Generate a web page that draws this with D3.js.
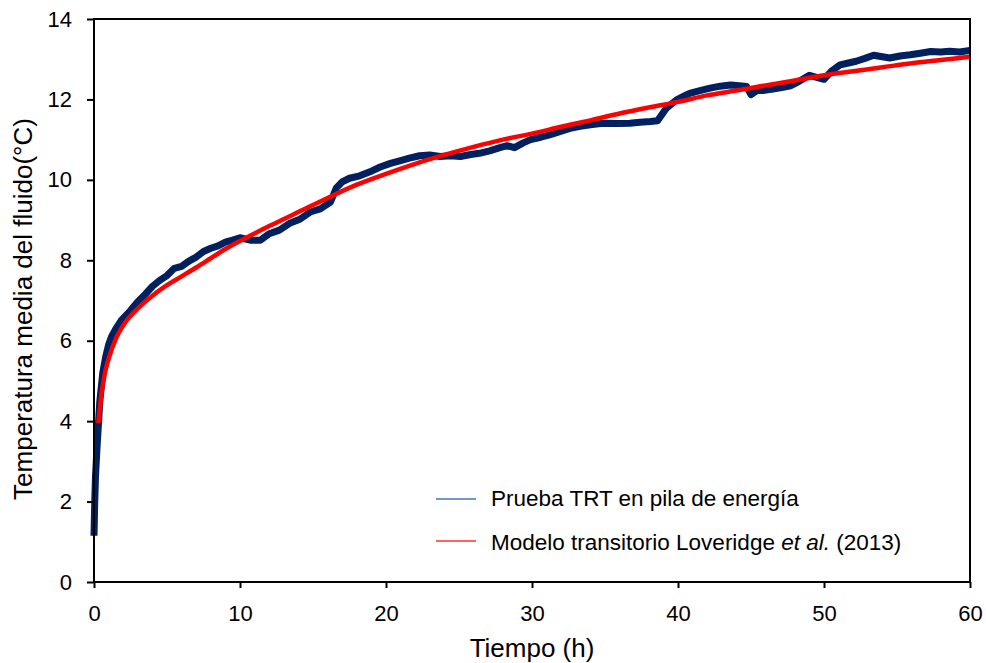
<html>
<head>
    <script src="https://cdn.jsdelivr.net/npm/d3@7"></script>
    <style>
        body { margin: 0; background: #fff; font-family: Arial, "Liberation Sans", sans-serif; }
        #Chart text { font-family: Arial, "Liberation Sans", sans-serif; fill: #000; }
    </style>
</head>
<body>
<svg id="Chart"></svg>
<script>
    let testTime = [0, 0.05, 0.1, 0.2, 0.3, 0.4, 0.6, 0.8, 1.0, 1.2, 1.5, 1.9, 2.5, 3.0, 3.5, 4.0, 4.5, 5.0, 5.5, 6.0,
        6.5, 7.0, 7.5, 8.0, 8.5, 9.0, 9.5, 10.0, 10.7, 11.4, 12.0, 12.7, 13.4, 14.1, 14.8, 15.5, 16.2, 16.6, 17.0, 17.5,
        18.2, 18.9, 19.6, 20.3, 21.0, 21.6, 22.3, 23.0, 23.7, 24.4, 25.1, 25.8, 26.4, 27.1, 27.8, 28.3, 28.8, 29.4, 29.9, 30.6,
        31.2, 31.9, 32.6, 33.3, 34.0, 34.7, 35.3, 36.0, 36.7, 37.4, 38.1, 38.6, 39.2, 39.9, 40.4, 40.8, 41.5, 42.2, 42.9, 43.6,
        44.2, 44.7, 45.0, 45.4, 45.8, 46.5, 47.2, 47.7, 48.3, 49.0, 49.5, 50.0, 50.5, 51.1, 51.6, 52.2, 52.8, 53.4, 54.0, 54.5,
        55.2, 55.9, 56.6, 57.3, 58.0, 58.6, 59.3, 60.0]
    let testTemp = [1.15, 2.0, 2.6, 3.3, 3.9, 4.5, 5.2, 5.6, 5.9, 6.1, 6.3, 6.52, 6.75, 6.97, 7.15, 7.35, 7.5, 7.62, 7.8, 7.85,
        7.98, 8.08, 8.22, 8.3, 8.36, 8.45, 8.5, 8.56, 8.5, 8.5, 8.66, 8.75, 8.92, 9.02, 9.2, 9.28, 9.45, 9.8, 9.95, 10.04,
        10.1, 10.2, 10.32, 10.41, 10.48, 10.54, 10.6, 10.62, 10.58, 10.6, 10.58, 10.63, 10.66, 10.72, 10.8, 10.85, 10.8, 10.92, 11.0, 11.06,
        11.12, 11.2, 11.28, 11.33, 11.37, 11.4, 11.41, 11.4, 11.41, 11.43, 11.45, 11.47, 11.78, 11.99, 12.08, 12.15, 12.22, 12.28, 12.33, 12.36,
        12.34, 12.32, 12.12, 12.22, 12.22, 12.26, 12.3, 12.34, 12.45, 12.6, 12.55, 12.5, 12.7, 12.86, 12.9, 12.95, 13.02, 13.1, 13.06, 13.03,
        13.08, 13.11, 13.15, 13.19, 13.18, 13.2, 13.18, 13.22]

    // transient model (red)
    let modelTime = [0.3, 0.5, 0.75, 1, 1.5, 2, 3, 4, 5, 6, 7, 8, 9, 10, 12, 14, 16, 18, 20, 22,
        24, 26, 28, 30, 32, 34, 36, 38, 40, 42, 44, 46, 48, 50, 52, 54, 56, 58, 60]
    let modelTemp = [3.95, 4.65, 5.2, 5.55, 6.05, 6.38, 6.8, 7.12, 7.38, 7.6, 7.82, 8.05, 8.28, 8.48, 8.85, 9.2, 9.55, 9.88, 10.15, 10.4,
        10.62, 10.82, 11.0, 11.15, 11.32, 11.48, 11.65, 11.8, 11.94, 12.1, 12.22, 12.35, 12.47, 12.6, 12.7, 12.8, 12.9, 12.98, 13.06]

    let xTicks = [0, 10, 20, 30, 40, 50, 60]
    let yTicks = [0, 2, 4, 6, 8, 10, 12, 14]

    function drawChart() {
        let width = 986, height = 663
        let margin = { top: 19, bottom: 81, left: 94, right: 16 }
        let svg = d3.select("#Chart").attr("width", width).attr("height", height)

        let xScale = d3.scaleLinear().domain([0, 60]).range([margin.left, width - margin.right])
        let yScale = d3.scaleLinear().domain([0, 14]).range([height - margin.bottom, margin.top])

        let testLine = d3.line().x((d, i) => xScale(testTime[i])).y(d => yScale(d))
        let modelLine = d3.line().curve(d3.curveMonotoneX).x((d, i) => xScale(modelTime[i])).y(d => yScale(d))

        svg.append("path")
            .attr("d", testLine(testTemp))
            .attr("fill", "none")
            .attr("stroke", "#002060")
            .attr("stroke-width", 7)
            .attr("stroke-linejoin", "round")

        svg.append("path")
            .attr("d", modelLine(modelTemp))
            .attr("fill", "none")
            .attr("stroke", "#ff0000")
            .attr("stroke-width", 4.5)

        // frame
        svg.append("rect")
            .attr("x", xScale(0)).attr("y", yScale(14))
            .attr("width", xScale(60) - xScale(0))
            .attr("height", yScale(0) - yScale(14))
            .attr("fill", "none").attr("stroke", "#000").attr("stroke-width", 2)

        let axisX = d3.axisBottom(xScale).tickValues(xTicks).tickSize(6).tickSizeOuter(0).tickPadding(17)
        let gx = svg.append("g").attr("transform", `translate(0,${yScale(0)})`).call(axisX)
        let axisY = d3.axisLeft(yScale).tickValues(yTicks).tickSize(7).tickSizeOuter(0).tickPadding(15)
        let gy = svg.append("g").attr("transform", `translate(${xScale(0)},0)`).call(axisY)
        for (let g of [gx, gy]) {
            g.select(".domain").remove()
            g.selectAll("line").attr("stroke", "#000").attr("stroke-width", 2)
            g.selectAll("text").style("font-size", "22px")
        }

        svg.append("text")
            .attr("x", (xScale(0) + xScale(60)) / 2).attr("y", 657)
            .attr("text-anchor", "middle").style("font-size", "26px")
            .text("Tiempo (h)")

        svg.append("text")
            .attr("transform", `translate(32,309) rotate(-90)`)
            .attr("text-anchor", "middle").style("font-size", "26px")
            .text("Temperatura media del fluido(°C)")

        // legend
        let legend = svg.append("g")
        legend.append("line").attr("x1", 436).attr("x2", 476).attr("y1", 499).attr("y2", 499)
            .attr("stroke", "#4472c4").attr("stroke-width", 1.5)
        legend.append("text").attr("x", 491).attr("y", 506).style("font-size", "22.5px")
            .text("Prueba TRT en pila de energía")
        legend.append("line").attr("x1", 436).attr("x2", 476).attr("y1", 541).attr("y2", 541)
            .attr("stroke", "#ff3030").attr("stroke-width", 1.5)
        let t2 = legend.append("text").attr("x", 491).attr("y", 550).style("font-size", "22.5px")
        t2.append("tspan").text("Modelo transitorio Loveridge ")
        t2.append("tspan").style("font-style", "italic").text("et al.")
        t2.append("tspan").text(" (2013)")
    }

    drawChart()
</script>
</body>
</html>
